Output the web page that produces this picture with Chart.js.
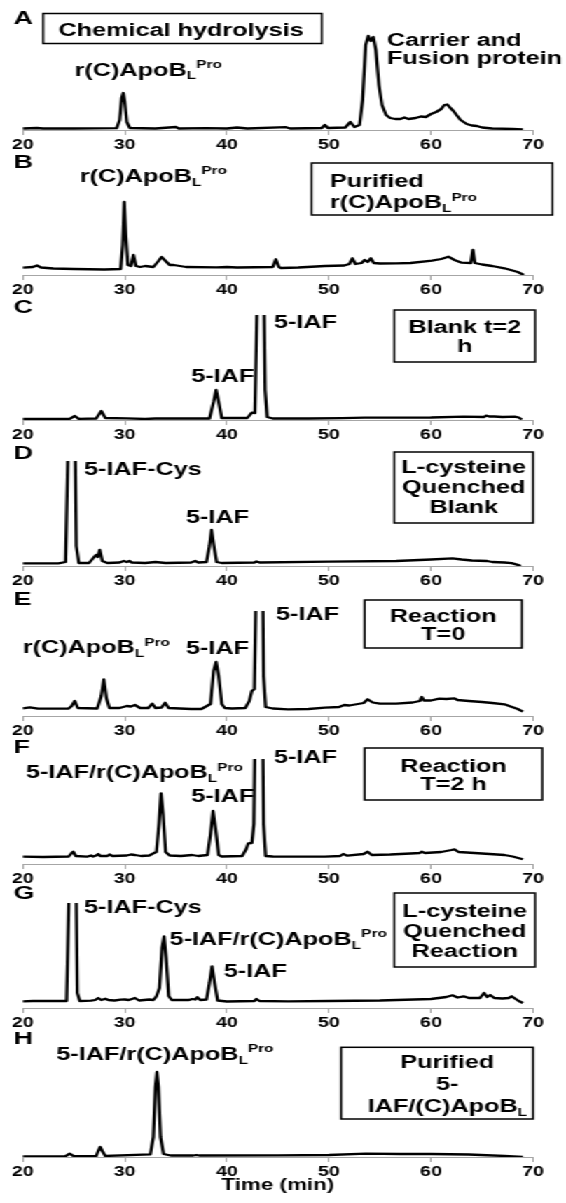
<!DOCTYPE html>
<html>
<head>
<meta charset="utf-8">
<script src="https://cdn.jsdelivr.net/npm/chart.js@4.4.1/dist/chart.umd.min.js"></script>
<style>
	html, body { margin: 0; padding: 0; background: #fff; }
	body { width: 566px; height: 1203px; overflow: hidden; position: relative; }
	/* the original figure is stretched sideways, so draw narrow and scale */
	#stage { position: absolute; left: 0; top: 0; width: 404px; height: 1203px; transform: scaleX(1.401); transform-origin: 0 0; }
	#stage canvas { position: absolute; left: 0; }
</style>
</head>
<body>
<div id="stage"></div>
<script>
const timeTicks = [20, 30, 40, 50, 60, 70];

// A - chemical hydrolysis
const timeA = [20, 21.4, 22, 25, 29.2, 29.5, 29.7, 29.85, 30, 30.2, 30.5, 33, 35, 35.3, 38, 40, 41, 42, 45.8, 46.2, 49.3, 49.6, 49.9, 51.6, 52.1, 52.5, 53, 53.3, 53.6, 53.85, 54.1, 54.35, 54.6, 54.9, 55.2, 55.6, 56, 56.5, 57, 57.4, 57.8, 58.5, 59, 59.5, 60, 60.5, 61, 61.3, 61.6, 61.9, 62.2, 62.5, 62.9, 63.5, 64, 64.5, 65, 66, 68, 69];
const signalA = [1.5, 2, 1.5, 1.5, 1.8, 10, 32, 37, 28, 8, 2, 1.5, 3, 1.5, 1.8, 1.5, 2.5, 1.5, 2.8, 1.5, 2, 5, 2, 2.5, 8, 3, 5, 30, 85, 94, 89, 93, 80, 45, 25, 15, 12, 11, 11, 12.5, 11, 12, 13.5, 13, 16, 18, 21, 25, 25.5, 22, 19, 15, 10, 6, 4.5, 4, 2.5, 1.5, 1, 0.5];

// B - purified r(C)ApoBL
const timeB = [20, 21, 21.4, 21.8, 23, 25, 28, 29.6, 29.8, 29.95, 30.1, 30.3, 30.6, 30.85, 31.1, 31.5, 32, 32.8, 33.3, 33.6, 34, 34.4, 34.8, 36, 39, 40, 41, 44.5, 44.8, 45.1, 45.3, 47, 49.6, 51.5, 52, 52.3, 52.6, 53.2, 53.5, 53.8, 54.1, 54.4, 55, 56.6, 58, 60.1, 61, 61.7, 62.3, 63, 63.9, 64.1, 64.3, 65, 66, 67.2, 68.5, 69.1];
const signalB = [7.3, 8, 9.5, 7.5, 6.5, 6, 5.5, 6, 30, 73, 40, 10, 9, 20, 9, 8, 9, 8, 14, 18, 14, 10, 10, 8, 7.7, 8, 7.5, 8, 15.7, 8, 7, 7.5, 9, 9.5, 11, 16.7, 11, 12, 15, 13, 16.7, 12, 11.5, 11.7, 12, 14.3, 16, 18.3, 15, 12.3, 12, 25, 12, 10.5, 9, 6.7, 3, 0];

// C - blank t=2 h
const timeC = [20, 24.6, 25.1, 25.5, 27.2, 27.7, 28.1, 30.2, 32, 33, 38.3, 38.7, 38.95, 39.2, 39.5, 42, 42.45, 42.75, 42.95, 43.25, 43.55, 43.75, 43.95, 44.5, 48, 51.3, 53.5, 56, 60, 63.2, 65.2, 65.4, 65.7, 66.2, 67, 68.2, 68.6, 68.9];
const signalC = [1, 1.2, 4, 1.2, 1.5, 9, 2, 1.7, 1, 1.5, 1.5, 18, 30, 18, 2, 2, 7.3, 7, 110, 400, 200, 30, 3, 1.5, 1.5, 1.8, 2.3, 2.3, 2.5, 3.3, 3, 4.3, 3.5, 3.5, 3, 3.3, 2.5, 0.5];

// D - L-cysteine quenched blank
const timeD = [20, 23.5, 24.2, 24.45, 24.75, 25.05, 25.25, 25.5, 26.5, 27, 27.2, 27.35, 27.55, 27.8, 28.3, 29.5, 29.9, 30.2, 30.45, 30.7, 32, 33, 34, 36.5, 36.9, 37.2, 38, 38.3, 38.5, 38.7, 39, 39.5, 42.7, 42.9, 43.2, 50, 56.6, 60, 62.1, 63, 64, 65.5, 66, 67.2, 67.9, 68.5, 68.8];
const signalD = [2.7, 2.7, 4, 120, 400, 200, 20, 3, 3, 9, 11, 9, 16, 5, 3, 3.5, 5, 4, 5, 3.5, 3, 4, 3, 3.5, 5, 3.5, 4, 20, 36, 22, 4, 3, 3.5, 4.5, 3.5, 4.3, 5, 6.5, 7.7, 6.5, 5.5, 5, 4, 3.5, 2.8, 1.2, 0];

// E - reaction T=0
const timeE = [20, 20.7, 21.5, 24.5, 24.8, 25.1, 25.4, 27.3, 27.7, 27.95, 28.2, 28.5, 29.5, 30.2, 30.6, 31, 31.5, 32.3, 32.7, 33, 33.6, 33.95, 34.3, 36.5, 37.5, 38.4, 38.7, 38.95, 39.2, 39.5, 39.8, 40.5, 41.8, 42.2, 42.45, 42.7, 42.85, 43.15, 43.45, 43.6, 43.8, 44.5, 46, 48, 49.6, 51, 51.5, 52, 53.4, 53.8, 54.3, 55, 56.6, 58.2, 58.9, 59.1, 59.3, 60, 60.8, 61.5, 62.3, 62.6, 63.7, 65, 66, 67.2, 67.8, 68.5, 69];
const signalE = [7.7, 8.7, 7.3, 7.5, 10, 15, 8, 7.5, 20, 36.7, 18, 8, 8, 10, 9.5, 11, 8, 8, 12.3, 8, 8.5, 13.3, 8, 7, 7, 12, 45, 54, 40, 12, 8, 7.5, 8, 15, 25, 27, 120, 400, 200, 40, 9, 7.5, 6.7, 7, 8.3, 9, 11, 10.5, 13, 16.7, 13.5, 12.3, 12.3, 13.5, 15, 19, 15.5, 15.5, 17.3, 17, 17.7, 16, 15, 14, 13, 11.7, 9.5, 7, 4.3];

// F - reaction T=2 h
const timeF = [20, 22, 24.5, 24.8, 24.95, 25.2, 26.3, 26.7, 26.9, 27.2, 27.4, 27.6, 28.3, 28.5, 28.8, 30.2, 30.6, 31, 31.6, 32.4, 32.8, 33.1, 33.35, 33.55, 33.75, 34, 34.4, 35.5, 36.6, 37.2, 38.1, 38.4, 38.65, 38.9, 39.2, 39.5, 41.5, 41.9, 42.1, 42.45, 42.65, 42.85, 43.15, 43.45, 43.6, 43.8, 44.5, 48, 49.6, 51.1, 51.4, 51.8, 53.4, 53.8, 54.2, 56, 58, 58.9, 59.1, 59.4, 61, 62, 62.3, 62.7, 63.5, 65, 67.2, 68, 69];
const signalF = [7.3, 7, 7.5, 11, 12.3, 8, 7.3, 8.5, 7.5, 8.5, 10, 8, 8, 9.5, 8, 8.5, 9.5, 9, 8, 8.5, 10.7, 12, 40, 70.7, 50, 12, 8.5, 8, 9, 8, 9, 30, 53, 35, 9, 7.5, 8, 15, 20.7, 21, 40, 200, 400, 200, 40, 8, 7.5, 7.3, 7.3, 8, 10, 8.3, 10, 12.3, 9, 9.5, 10.5, 11, 12.3, 11, 12, 14, 14.7, 12, 11.5, 10.5, 9, 7.5, 4.7];

// G - L-cysteine quenched reaction
const timeG = [20, 21, 24.3, 24.55, 24.85, 25.15, 25.35, 25.6, 26.7, 27.1, 27.4, 27.7, 28.1, 28.4, 29, 29.6, 30, 30.4, 31, 31.4, 32.4, 32.8, 33.1, 33.4, 33.65, 33.85, 34.05, 34.3, 34.6, 36.3, 36.6, 36.9, 37.1, 37.4, 38, 38.3, 38.55, 38.8, 39.1, 40, 42.7, 42.9, 43.2, 46, 50, 55, 60, 61.5, 62.1, 62.6, 63.2, 63.7, 64.8, 65.2, 65.5, 65.8, 66.2, 67, 67.6, 67.9, 68.3, 68.6, 69];
const signalG = [6.7, 7, 7, 120, 400, 200, 15, 7, 7.3, 8, 10, 8, 9.3, 8, 7.5, 8.3, 8.5, 8, 10, 7.5, 8.5, 8, 11.7, 20, 60, 71.7, 50, 12, 8, 8, 9, 8.5, 10.7, 8, 8.5, 25, 41.7, 25, 7.5, 6.5, 7, 9, 7, 6.7, 7, 7.5, 9, 11, 12.7, 10.5, 11.7, 10, 10, 15, 11, 13, 10, 9.5, 10, 11.7, 9, 7, 5];

// H - purified 5-IAF/(C)ApoBL
const timeH = [20, 24.2, 24.6, 25, 27.2, 27.4, 27.6, 27.8, 28.1, 32.5, 32.8, 33, 33.15, 33.3, 33.5, 33.8, 34.5, 36.7, 37, 37.3, 45, 50, 53.6, 57, 60, 63.7, 67.2, 69];
const signalH = [0.7, 0.8, 3.3, 0.8, 1, 6, 10, 6, 1, 2.7, 20, 70, 85, 70, 20, 3, 1.5, 1.5, 2, 1.5, 1.7, 2, 3.3, 3, 3, 2.5, 1, 0];

const FONT = '"Liberation Sans", Arial, sans-serif';
const TEXT_SIZE = 18;
const PLOT_TOP = 20;   // px above the plot area inside each canvas
const PLOT_H = 105;    // y range is 0..105
const AXIS_H = 25;

const panels = [
	{ letter: 'A', axisY: 129.5, letterH: 106, time: timeA, signal: signalA,
		labels: [
			{ text: 'r(C)ApoB_{L}^{Pro}', t: 25.1, h: 54.5 },
			{ text: 'Carrier and', t: 55.7, h: 84.5 },
			{ text: 'Fusion protein', t: 55.7, h: 66.2 }
		],
		box: { t0: 22.0, t1: 49.3, top: 116.5, bottom: 86.5, align: 'left', tx: 23.5, lines: ['Chemical hydrolysis'], hs: [94] } },
	{ letter: 'B', axisY: 275, letterH: 107, time: timeB, signal: signalB,
		labels: [{ text: 'r(C)ApoB_{L}^{Pro}', t: 25.6, h: 93.3 }],
		box: { t0: 48.3, t1: 71.9, top: 112, bottom: 60, align: 'left', tx: 50.1, lines: ['Purified', 'r(C)ApoB_{L}^{Pro}'], hs: [88.3, 66.7] } },
	{ letter: 'C', axisY: 420, letterH: 107.5, time: timeC, signal: signalC,
		labels: [
			{ text: '5-IAF', t: 36.5, h: 38 },
			{ text: '5-IAF', t: 44.6, h: 92 }
		],
		box: { t0: 56.4, t1: 70.2, top: 110, bottom: 58, align: 'center', tx: 63.3, lines: ['Blank t=2', 'h'], hs: [86.7, 68.3] } },
	{ letter: 'D', axisY: 566, letterH: 107.5, time: timeD, signal: signalD,
		labels: [
			{ text: '5-IAF-Cys', t: 26.0, h: 91 },
			{ text: '5-IAF', t: 36.0, h: 43 }
		],
		box: { t0: 56.4, t1: 70.0, top: 114, bottom: 43, align: 'center', tx: 63.2, lines: ['L-cysteine', 'Quenched', 'Blank'], hs: [92.7, 72.7, 52.7] } },
	{ letter: 'E', axisY: 716, letterH: 111, time: timeE, signal: signalE,
		labels: [
			{ text: 'r(C)ApoB_{L}^{Pro}', t: 20.0, h: 62.7 },
			{ text: '5-IAF', t: 36.0, h: 61.7 },
			{ text: '5-IAF', t: 44.8, h: 96 }
		],
		box: { t0: 53.5, t1: 68.9, top: 116, bottom: 68, align: 'center', tx: 61.2, lines: ['Reaction', 'T=0'], hs: [94.3, 76] } },
	{ letter: 'F', axisY: 864, letterH: 111.5, time: timeF, signal: signalF,
		labels: [
			{ text: '5-IAF/r(C)ApoB_{L}^{Pro}', t: 20.3, h: 85.7 },
			{ text: '5-IAF', t: 36.5, h: 62.3 },
			{ text: '5-IAF', t: 44.6, h: 101.3 }
		],
		box: { t0: 53.5, t1: 70.9, top: 116, bottom: 64, align: 'center', tx: 62.2, lines: ['Reaction', 'T=2 h'], hs: [92.3, 74] } },
	{ letter: 'G', axisY: 1008, letterH: 109, time: timeG, signal: signalG,
		labels: [
			{ text: '5-IAF-Cys', t: 26.0, h: 94.7 },
			{ text: '5-IAF/r(C)ApoB_{L}^{Pro}', t: 34.4, h: 63 },
			{ text: '5-IAF', t: 39.7, h: 31.3 }
		],
		box: { t0: 56.4, t1: 70.2, top: 115, bottom: 41, align: 'center', tx: 63.3, lines: ['L-cysteine', 'Quenched', 'Reaction'], hs: [91.3, 71.3, 51.3] } },
	{ letter: 'H', axisY: 1157, letterH: 113, time: timeH, signal: signalH, last: true,
		labels: [{ text: '5-IAF/r(C)ApoB_{L}^{Pro}', t: 23.3, h: 97 }],
		box: { t0: 51.2, t1: 70.0, top: 109.7, bottom: 38, align: 'center', tx: 61.6, lines: ['Purified', '5-', 'IAF/(C)ApoB_{L}'], hs: [88.7, 67, 45.3] } }
];

/* split "r(C)ApoB_{L}^{Pro}" into plain / sub / sup pieces */
function parseRich(text) {
	const parts = [];
	const re = /(_|\^)\{([^}]*)\}/g;
	let last = 0, m;
	while ((m = re.exec(text)) !== null) {
		if (m.index > last) parts.push({ s: text.slice(last, m.index), kind: 'main' });
		parts.push({ s: m[2], kind: m[1] === '_' ? 'sub' : 'sup' });
		last = re.lastIndex;
	}
	if (last < text.length) parts.push({ s: text.slice(last), kind: 'main' });
	return parts;
}

function drawRich(ctx, text, x, y, align, size) {
	const small = Math.round(size * 0.6);
	const parts = parseRich(text);
	let total = 0;
	parts.forEach((p) => {
		p.size = p.kind === 'main' ? size : small;
		ctx.font = `bold ${p.size}px ${FONT}`;
		p.w = ctx.measureText(p.s).width;
		total += p.w;
	});
	let cx = align === 'center' ? x - total / 2 : x;
	parts.forEach((p) => {
		ctx.font = `bold ${p.size}px ${FONT}`;
		let dy = 0;
		if (p.kind === 'sub') dy = size * 0.22;
		if (p.kind === 'sup') dy = -size * 0.42;
		ctx.fillText(p.s, cx, y + dy);
		cx += p.w;
	});
}

function labelPlugin(panel) {
	return {
		id: 'panelLabels',
		afterDraw(chart) {
			const { ctx } = chart;
			const x = chart.scales.x, y = chart.scales.y;
			ctx.save();
			ctx.textBaseline = 'alphabetic';
			ctx.textAlign = 'left';
			ctx.fillStyle = '#000';
			drawRich(ctx, panel.letter, x.getPixelForValue(19.1), y.getPixelForValue(panel.letterH), 'left', 19);
			panel.labels.forEach((l) => {
				drawRich(ctx, l.text, x.getPixelForValue(l.t), y.getPixelForValue(l.h), 'left', TEXT_SIZE);
			});
			const b = panel.box;
			const x0 = x.getPixelForValue(b.t0), x1 = x.getPixelForValue(b.t1);
			const y0 = y.getPixelForValue(b.top), y1 = y.getPixelForValue(b.bottom);
			ctx.fillStyle = '#fff';
			ctx.fillRect(x0, y0, x1 - x0, y1 - y0);
			ctx.strokeStyle = '#000';
			ctx.lineWidth = 1.5;
			ctx.strokeRect(x0, y0, x1 - x0, y1 - y0);
			ctx.fillStyle = '#000';
			b.lines.forEach((s, i) => {
				drawRich(ctx, s, x.getPixelForValue(b.tx), y.getPixelForValue(b.hs[i]), b.align, TEXT_SIZE);
			});
			if (panel.last) {
				drawRich(ctx, 'Time (min)', x.getPixelForValue(45), y.getPixelForValue(-33), 'center', 16);
			}
			ctx.restore();
		}
	};
}

const stage = document.getElementById('stage');

panels.forEach((panel) => {
	const extra = panel.last ? 15 : 0;
	const canvas = document.createElement('canvas');
	canvas.width = 404;
	canvas.height = PLOT_TOP + PLOT_H + AXIS_H + extra;
	canvas.style.top = (panel.axisY - PLOT_TOP - PLOT_H) + 'px';
	stage.appendChild(canvas);

	new Chart(canvas, {
		type: 'line',
		data: {
			datasets: [{
				data: panel.time.map((t, i) => ({ x: t, y: panel.signal[i] })),
				borderColor: '#000',
				borderWidth: 2.3,
				borderJoinStyle: 'round',
				pointRadius: 0,
				tension: 0,
				fill: false
			}]
		},
		options: {
			responsive: false,
			animation: false,
			events: [],
			layout: { padding: { top: PLOT_TOP, left: 16.2, right: 23.5, bottom: extra } },
			plugins: { legend: { display: false }, tooltip: { enabled: false } },
			scales: {
				x: {
					type: 'linear',
					min: 20,
					max: 70,
					afterBuildTicks: (s) => { s.ticks = timeTicks.map((v) => ({ value: v })); },
					afterFit: (s) => { s.height = AXIS_H; },
					border: { display: true, color: '#a6a6a6', width: 1 },
					grid: { drawOnChartArea: false, drawTicks: true, tickLength: 5, color: '#a6a6a6' },
					ticks: { color: '#000', padding: 2, maxRotation: 0, font: { family: FONT, size: 14, weight: 'bold' } }
				},
				y: { display: false, min: 0, max: PLOT_H }
			}
		},
		plugins: [labelPlugin(panel)]
	});
});
</script>
</body>
</html>
